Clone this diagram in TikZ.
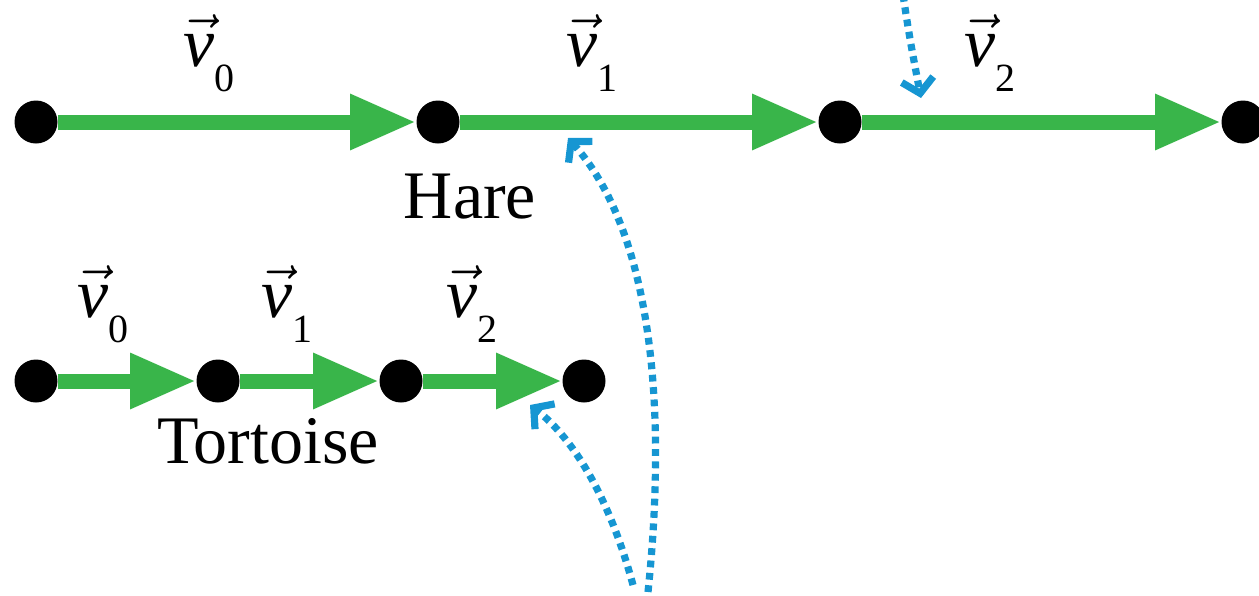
\RequirePackage{fix-cm}
\documentclass[tikz,border=0pt]{standalone}
\usepackage{amsmath}
\usepackage{fontspec}
\setmainfont{LiberationSerif}[Extension=.ttf,UprightFont=*-Regular,ItalicFont=*-Italic,BoldFont=*-Bold]
\usepackage{tikz}
\usetikzlibrary{arrows.meta}
\definecolor{vgreen}{RGB}{57,181,74}
\definecolor{pblue}{RGB}{22,150,210}
\newcommand{\vlab}[1]{$\vec{\textit{v}}$\raisebox{-0.36em}{\fontsize{20}{20}\selectfont #1}}

\begin{document}
\begin{tikzpicture}[x=0.5pt,y=-0.5pt,line join=round,
  dot/.style={circle,fill=black,inner sep=0pt,minimum size=21.5pt},
  vec/.style={vgreen,line width=7.5pt,-{Triangle[length=33pt,width=26pt]}},
  hint/.style={pblue,line width=3.6pt,dash pattern=on 3.4pt off 2.8pt,-{Straight Barb[length=7pt,width=16pt]}},
  lab/.style={font=\fontsize{35}{40}\selectfont,inner sep=0pt},
  animal/.style={font=\fontsize{34}{40}\selectfont,inner sep=0pt}]
\useasboundingbox (0,0) rectangle (1259,595);
\foreach \n/\x in {0/36,1/438,2/840,3/1243} \node[dot] (h\n) at (\x,122) {};
\foreach \n/\x in {0/36,1/218,2/401,3/584} \node[dot] (t\n) at (\x,381) {};
\foreach \a/\b in {0/1,1/2,2/3}{
	\draw[vec] (h\a) -- (h\b);
	\draw[vec] (t\a) -- (t\b);}
\foreach \n/\x in {0/209,1/592,2/990} \node[lab] (hv\n) at (\x,53) {\vlab{\n}};
\foreach \n/\x in {0/103,1/287,2/472} \node[lab] (tv\n) at (\x,304) {\vlab{\n}};
\node[animal] (hare) at (470,197) {Hare};
\node[animal] (tortoise) at (268,441) {Tortoise};
\coordinate (long) at (648,592);
\coordinate (longend) at (568,138);
\coordinate (short) at (633,585);
\coordinate (shortend) at (530,405);
\coordinate (top) at (903,-5);
\coordinate (topend) at (921,98);
\draw[hint] (long) .. controls (668,400) and (650,230) .. (longend);
\draw[hint] (short) .. controls (610,500) and (575,440) .. (shortend);
\draw[hint] (top) .. controls (910,40) .. (topend);
\end{tikzpicture}
\end{document}
